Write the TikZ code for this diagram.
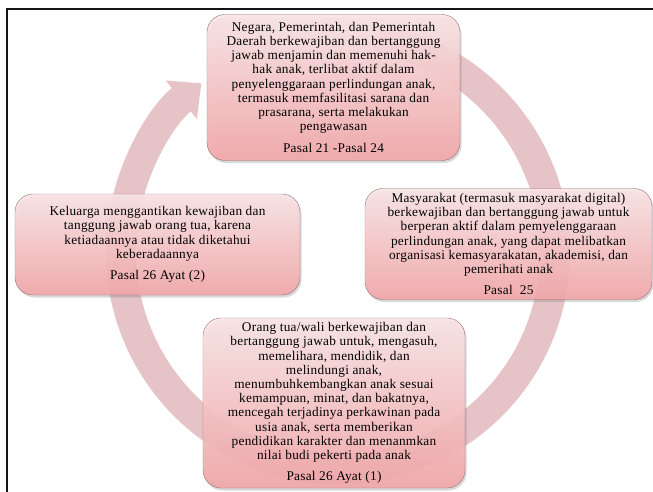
\documentclass[tikz,border=0pt]{standalone}
\usepackage{fontspec}
\setmainfont{Liberation Serif}
\usetikzlibrary{arrows.meta,shadows}
\definecolor{HakTop}{RGB}{250,229,230}
\definecolor{HakBottom}{RGB}{242,166,168}
\definecolor{HakBorder}{RGB}{150,112,116}
\definecolor{HakCycle}{RGB}{230,195,199}
\definecolor{HakFrame}{RGB}{20,20,20}
\newcommand{\pasaltext}{\fontsize{13.3}{14.2}\selectfont\addfontfeatures{LetterSpace=2}}

\begin{document}
\begin{tikzpicture}[x=1pt,y=-1pt,
	pasalbox/.style={draw=HakBorder, rounded corners=18pt, top color=HakTop, bottom color=HakBottom,
		fill opacity=0.9, text opacity=1, drop shadow={shadow xshift=1.5pt, shadow yshift=-2.5pt, opacity=0.3},
		align=center, inner sep=0pt, font=\pasaltext}]
		\useasboundingbox (0,0) rectangle (653,492);
		\draw[line width=2.4pt, draw=HakFrame] (7,492) -- (7,9) -- (653,9);
		\coordinate (hub) at (338,252);
		\draw[line width=30pt, draw=HakCycle, -{Triangle[length=26pt,width=48pt]}]
		(hub) ++(-80:217) arc[start angle=-80, end angle=231, radius=217];
		\node[pasalbox, minimum width=253pt, minimum height=146pt] (negara) at (333.5,87.5)
		{Negara, Pemerintah, dan Pemerintah\\
		Daerah berkewajiban dan bertanggung\\
		jawab menjamin dan memenuhi hak-\\
		hak anak, terlibat aktif dalam\\
		penyelenggaraan perlindungan anak,\\
		termasuk memfasilitasi sarana dan\\
		prasarana, serta melakukan\\
		pengawasan\\[8pt]
		Pasal 21 -Pasal 24};
		\node[pasalbox, minimum width=285pt, minimum height=101pt] (keluarga) at (157.5,244.5)
		{Keluarga menggantikan kewajiban dan\\
		tanggung jawab orang tua, karena\\
		ketiadaannya atau tidak diketahui\\
		keberadaannya\\[7pt]
		Pasal 26 Ayat (2)};
		\node[pasalbox, minimum width=287pt, minimum height=111pt] (masyarakat) at (508.5,244)
		{Masyarakat (termasuk masyarakat digital)\\
		berkewajiban dan bertanggung jawab untuk\\
		berperan aktif dalam pemyelenggaraan\\
		perlindungan anak, yang dapat melibatkan\\
		organisasi kemasyarakatan, akademisi, dan\\
		pemerihati anak\\[7pt]
		Pasal~~25};
		\node[pasalbox, minimum width=262pt, minimum height=170pt] (orangtua) at (334,403)
		{Orang tua/wali berkewajiban dan\\
		bertanggung jawab untuk, mengasuh,\\
		memelihara, mendidik, dan\\
		melindungi anak,\\
		menumbuhkembangkan anak sesuai\\
		kemampuan, minat, dan bakatnya,\\
		mencegah terjadinya perkawinan pada\\
		usia anak, serta memberikan\\
		pendidikan karakter dan menanmkan\\
		nilai budi pekerti pada anak\\[7pt]
		Pasal 26 Ayat (1)};
	\end{tikzpicture}
\end{document}
